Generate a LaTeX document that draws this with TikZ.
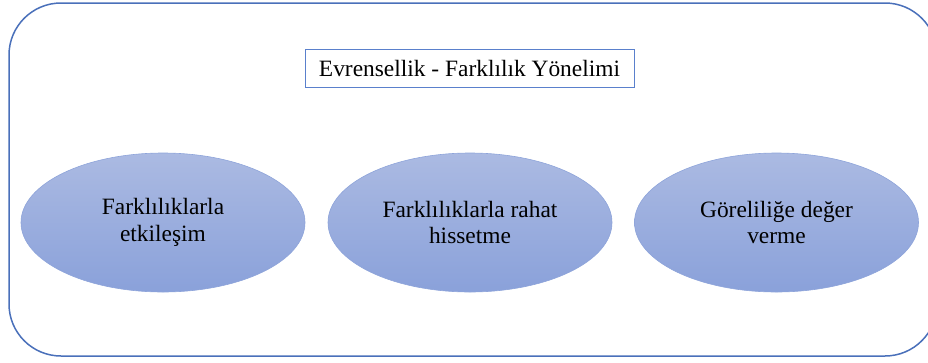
\documentclass[tikz,border=0pt]{standalone}
\usepackage{fontspec}
\setmainfont{Liberation Serif}
\usetikzlibrary{shapes.geometric}

\definecolor{frameblue}{HTML}{4A70BA}
\definecolor{titleblue}{HTML}{5A80CC}
\definecolor{ovaltop}{HTML}{ABBAE2}
\definecolor{ovalbottom}{HTML}{8AA1DA}
\definecolor{ovaledge}{HTML}{8EA4DA}

\tikzset{
  bodytext/.style={font=\fontsize{23.5pt}{26.5pt}\selectfont, text=black},
  titlebox/.style={bodytext, draw=titleblue, line width=1bp, fill=white,
    minimum width=329bp, minimum height=38bp, inner sep=0pt},
  oval/.style={ellipse, bodytext, align=center, inner sep=0pt,
    minimum width=284bp, minimum height=139bp,
    top color=ovaltop, bottom color=ovalbottom, shading angle=0,
    draw=ovaledge, line width=0.6bp},
  outerframe/.style={draw=frameblue, line width=1.5bp, rounded corners=52bp}
}

\begin{document}
\begin{tikzpicture}[x=1bp, y=-1bp]
  \useasboundingbox (0,0) rectangle (928,362);

  % rounded outer frame, its right side runs past the page edge
  \begin{scope}
    \clip (0,0) rectangle (928,362);
    \draw[outerframe] (9,3) rectangle (937,356);
  \end{scope}

  % heading
  \node[titlebox] (title) at (469.5,68) {Evrensellik - Farklılık Yönelimi};

  % the three orientation components
  \node[oval] (interact) at (163,222.5) {Farklılıklarla\\etkileşim};
  \node[oval] (comfort)  at (470,222.5) {Farklılıklarla rahat\\hissetme};
  \node[oval] (relative) at (776.5,222.5) {Göreliliğe değer\\verme};
\end{tikzpicture}
\end{document}
